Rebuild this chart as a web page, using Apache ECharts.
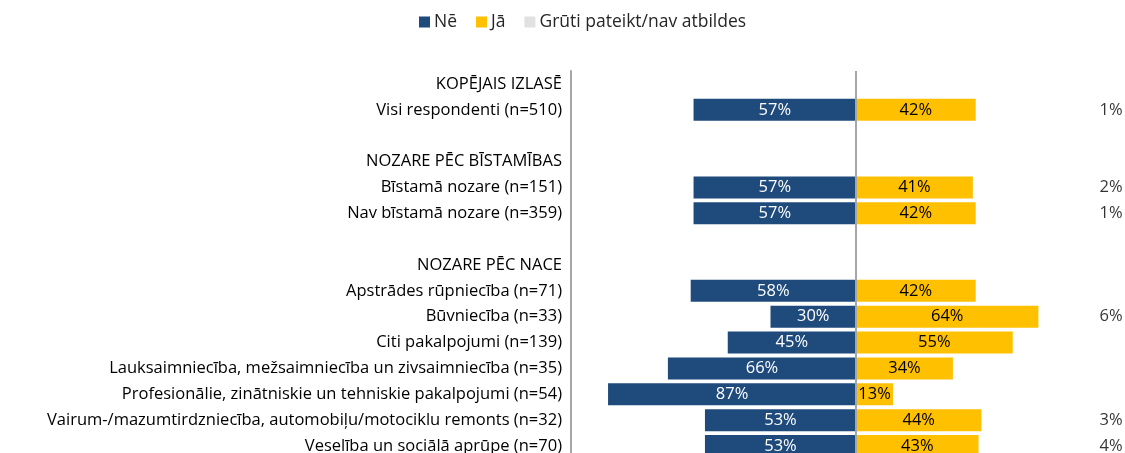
<!DOCTYPE html>
<html><head><meta charset="utf-8">
<script src="https://cdn.jsdelivr.net/npm/echarts@6/dist/echarts.min.js"></script>
<style>html,body{margin:0;padding:0;background:#fff}#c{width:1125px;height:453px}</style>
</head><body><div id="c"></div>
<script>
const categories = ['KOPĒJAIS IZLASĒ','Visi respondenti (n=510)',' ','NOZARE PĒC BĪSTAMĪBAS','Bīstamā nozare (n=151)','Nav bīstamā nozare (n=359)','  ','NOZARE PĒC NACE','Apstrādes rūpniecība (n=71)','Būvniecība (n=33)','Citi pakalpojumi (n=139)','Lauksaimniecība, mežsaimniecība un zivsaimniecība (n=35)','Profesionālie, zinātniskie un tehniskie pakalpojumi (n=54)','Vairum-/mazumtirdzniecība, automobiļu/motociklu remonts (n=32)','Veselība un sociālā aprūpe (n=70)'];
const ne = [null,57,null,null,57,57,null,null,58,30,45,66,87,53,53];
const ja = [null,42,null,null,41,42,null,null,42,64,55,34,13,44,43];
const gr = [null,1,null,null,2,1,null,null,0,6,0,0,0,3,4];
const seriesNames = ['Nē','Jā','Grūti pateikt/nav atbildes'];

const FONT = 'Open Sans';
const GR_POS = 89.5;
const chart = echarts.init(document.getElementById('c'));
chart.setOption({
  animation:false,
  textStyle:{fontFamily:FONT},
  legend:{
    top:8,left:414,itemWidth:11,itemHeight:11,itemGap:19,icon:'rect',
    textStyle:{fontFamily:FONT,fontSize:17.5,color:'#262626',padding:[0,0,0,-1]},
    data:seriesNames
  },
  grid:{left:571,top:71,height:388,width:570,containLabel:false,outerBoundsMode:'none'},
  xAxis:{type:'value',min:-100,max:100,show:false},
  yAxis:{type:'category',inverse:true,data:categories,
    axisLine:{show:true,onZero:false,lineStyle:{color:'#a6a6a6',width:2}},
    axisTick:{show:false},
    axisLabel:{margin:9,fontFamily:FONT,fontSize:16.5,color:'#000'}
  },
  series:[
    {name:seriesNames[0],type:'bar',barWidth:22,barGap:'-100%',
     data:ne.map(v=>v==null?null:-v),
     itemStyle:{color:'#1f4a7c'},
     label:{show:true,position:'inside',color:'#fff',fontFamily:FONT,fontSize:16.5,
       formatter:p=>Math.abs(p.value)+'%'},
     markLine:{silent:true,symbol:'none',label:{show:false},
       lineStyle:{color:'#a6a6a6',width:2,type:'solid'},data:[{xAxis:0}]}
    },
    {name:seriesNames[1],type:'bar',barWidth:22,barGap:'-100%',
     data:ja,itemStyle:{color:'#ffc000'},
     label:{show:true,position:'inside',color:'#000',fontFamily:FONT,fontSize:16.5,
       formatter:p=>p.value+'%'}
    },
    {name:seriesNames[2],type:'scatter',symbol:'rect',symbolSize:0,
     itemStyle:{color:'#d9d9d9'},
     data:gr.map((v,i)=>v?[GR_POS,i,v]:[null,i,null]),
     label:{show:true,position:'inside',color:'#000',fontFamily:FONT,fontSize:16.5,
       formatter:p=>p.data[2]==null?'':p.data[2]+'%'}
    }
  ]
});
</script></body></html>
